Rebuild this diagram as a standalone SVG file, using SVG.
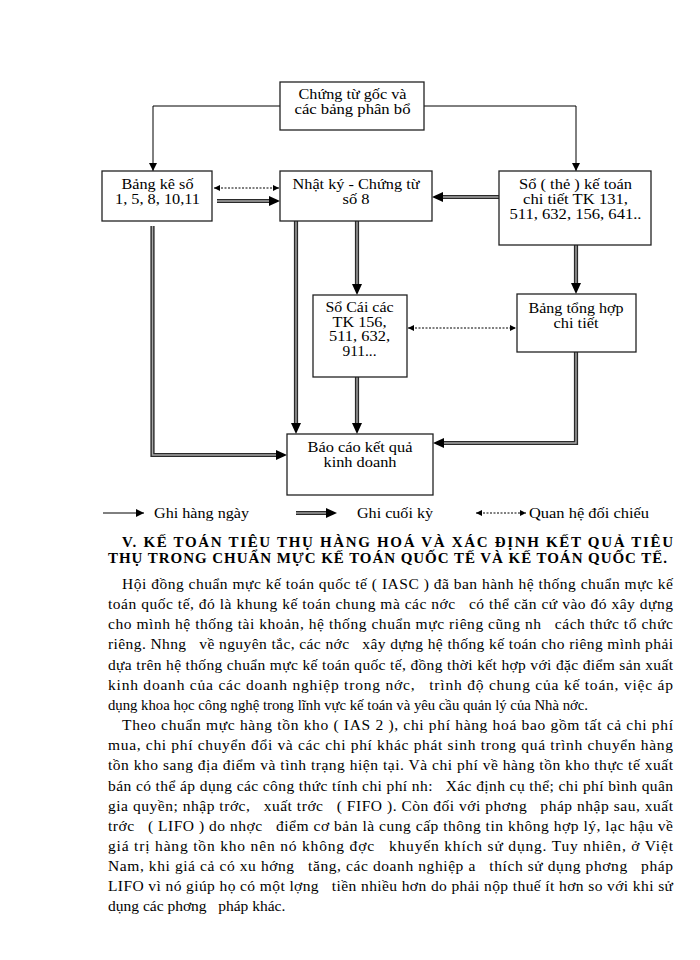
<svg xmlns="http://www.w3.org/2000/svg" width="700" height="960" viewBox="0 0 700 960">
<style>
.box{fill:#fff;stroke:#222;stroke-width:1.3}
.bt{font-family:"Liberation Serif","Times New Roman",serif;font-size:14.5px;fill:#000;text-anchor:middle}
.thin{fill:none;stroke:#000;stroke-width:1}
.dbl{fill:none;stroke:#2a2a2a;stroke-width:4.2}
.dbli{fill:none;stroke:#a8a8a8;stroke-width:1.4}
.dot{fill:none;stroke:#000;stroke-width:1;stroke-dasharray:2 1.5}
.lg{font-family:"Liberation Serif","Times New Roman",serif;font-size:15px;fill:#000}
.ti{font-family:"Liberation Serif","Times New Roman",serif;font-size:15px;font-weight:bold;fill:#000}
.p{font-family:"Liberation Serif","Times New Roman",serif;font-size:15.5px;fill:#000}
</style>
<defs>
<marker id="ah" viewBox="0 0 8 8" refX="8" refY="4" markerWidth="8" markerHeight="8" markerUnits="userSpaceOnUse" orient="auto"><path d="M0,0 L8,4 L0,8 z" fill="#000"/></marker>
<marker id="dh" viewBox="0 0 11 10" refX="3" refY="5" markerWidth="11" markerHeight="10" markerUnits="userSpaceOnUse" orient="auto"><path d="M0,0 L11,5 L0,10 z" fill="#000"/></marker>
<marker id="dt" viewBox="0 0 6 6" refX="6" refY="3" markerWidth="6" markerHeight="6" markerUnits="userSpaceOnUse" orient="auto-start-reverse"><path d="M0,0 L6,3 L0,6 z" fill="#000"/></marker>
</defs>
<rect width="700" height="960" fill="#fff"/>

<g id="connectors">
<path class="thin" d="M280,106 H153 V171" marker-end="url(#ah)"/>
<path class="thin" d="M424,106 H576 V171" marker-end="url(#ah)"/>
<path class="dot" d="M214,188 H279" marker-start="url(#dt)" marker-end="url(#dt)"/>
<path class="dot" d="M408,328 H516" marker-start="url(#dt)" marker-end="url(#dt)"/>
<path class="dbl" d="M217,201 H272" marker-end="url(#dh)"/><path class="dbli" d="M217,201 H269"/>
<path class="dbl" d="M499,197 H440" marker-end="url(#dh)"/><path class="dbli" d="M499,197 H443"/>
<path class="dbl" d="M152.5,226 V455 H279" marker-end="url(#dh)"/><path class="dbli" d="M152.5,226 V455 H276"/>
<path class="dbl" d="M296,221 V426" marker-end="url(#dh)"/><path class="dbli" d="M296,221 V423"/>
<path class="dbl" d="M357,221 V287" marker-end="url(#dh)"/><path class="dbli" d="M357,221 V284"/>
<path class="dbl" d="M357,377 V426" marker-end="url(#dh)"/><path class="dbli" d="M357,377 V423"/>
<path class="dbl" d="M576,245 V286" marker-end="url(#dh)"/><path class="dbli" d="M576,245 V283"/>
<path class="dbl" d="M576,352 V443 H441" marker-end="url(#dh)"/><path class="dbli" d="M576,352 V443 H444"/>
</g>

<g id="n-chungtugoc">
<rect class="box" x="280" y="82" width="144" height="48"/>
<text class="bt" x="352.5" y="98.5" textLength="108" lengthAdjust="spacingAndGlyphs">Chứng từ gốc và</text>
<text class="bt" x="352.5" y="113.5" textLength="116" lengthAdjust="spacingAndGlyphs">các bảng phân bổ</text>
</g>
<g id="n-bangke">
<rect class="box" x="102" y="171" width="110" height="50"/>
<text class="bt" x="157.5" y="188.5" textLength="72" lengthAdjust="spacingAndGlyphs">Bảng kê số</text>
<text class="bt" x="157.5" y="203.5" textLength="85" lengthAdjust="spacingAndGlyphs">1, 5, 8, 10,11</text>
</g>
<g id="n-nhatky">
<rect class="box" x="280" y="171" width="152" height="50"/>
<text class="bt" x="356" y="188.5" textLength="127" lengthAdjust="spacingAndGlyphs">Nhật ký - Chứng từ</text>
<text class="bt" x="356" y="203.5" textLength="27" lengthAdjust="spacingAndGlyphs">số 8</text>
</g>
<g id="n-sothe">
<rect class="box" x="499" y="171" width="152" height="74"/>
<text class="bt" x="575.5" y="189" textLength="113" lengthAdjust="spacingAndGlyphs">Sổ ( thẻ ) kế toán</text>
<text class="bt" x="575.5" y="204" textLength="105" lengthAdjust="spacingAndGlyphs">chi tiết TK 131,</text>
<text class="bt" x="575.5" y="219" textLength="132" lengthAdjust="spacingAndGlyphs">511, 632, 156, 641..</text>
</g>
<g id="n-socai">
<rect class="box" x="313" y="295" width="94" height="82"/>
<text class="bt" x="359.5" y="311.5" textLength="68" lengthAdjust="spacingAndGlyphs">Sổ Cái các</text>
<text class="bt" x="359.5" y="326.5" textLength="54" lengthAdjust="spacingAndGlyphs">TK 156,</text>
<text class="bt" x="359.5" y="341" textLength="61" lengthAdjust="spacingAndGlyphs">511, 632,</text>
<text class="bt" x="359.5" y="355.5" textLength="34" lengthAdjust="spacingAndGlyphs">911...</text>
</g>
<g id="n-tonghop">
<rect class="box" x="517" y="294" width="119" height="58"/>
<text class="bt" x="576" y="312.5" textLength="95" lengthAdjust="spacingAndGlyphs">Bảng tổng hợp</text>
<text class="bt" x="576" y="327.5" textLength="45" lengthAdjust="spacingAndGlyphs">chi tiết</text>
</g>
<g id="n-baocao">
<rect class="box" x="287" y="434" width="146" height="61"/>
<text class="bt" x="360" y="451.5" textLength="105" lengthAdjust="spacingAndGlyphs">Báo cáo kết quả</text>
<text class="bt" x="360" y="466.5" textLength="73" lengthAdjust="spacingAndGlyphs">kinh doanh</text>
</g>

<g id="legend">
<path class="thin" d="M103,513 H144" marker-end="url(#ah)"/>
<text class="lg" x="154" y="518" textLength="95" lengthAdjust="spacingAndGlyphs">Ghi hàng ngày</text>
<path class="dbl" d="M296,513 H329" marker-end="url(#dh)"/><path class="dbli" d="M296,513 H326"/>
<text class="lg" x="357" y="518" textLength="76" lengthAdjust="spacingAndGlyphs">Ghi cuối kỳ</text>
<path class="dot" d="M476,513 H526" marker-start="url(#dt)" marker-end="url(#dt)"/>
<text class="lg" x="529" y="518" textLength="120" lengthAdjust="spacingAndGlyphs">Quan hệ đối chiếu</text>
</g>

<g id="body-text">
<text class="ti" x="122" y="547" textLength="551" lengthAdjust="spacing">V. KẾ TOÁN TIÊU THỤ HÀNG HOÁ VÀ XÁC ĐỊNH KẾT QUẢ TIÊU</text>
<text class="ti" x="108" y="563" textLength="559" lengthAdjust="spacing">THỤ TRONG CHUẨN MỰC KẾ TOÁN QUỐC TẾ VÀ KẾ TOÁN QUỐC TẾ.</text>
<text class="p" xml:space="preserve" x="122" y="589" textLength="551" lengthAdjust="spacing">Hội đồng chuẩn mực kế toán quốc tế ( IASC ) đã ban hành hệ thống chuẩn mực kế</text>
<text class="p" xml:space="preserve" x="108" y="609" textLength="565" lengthAdjust="spacing">toán quốc tế, đó là khung kế toán chung mà các nớc   có thể căn cứ vào đó xây dựng</text>
<text class="p" xml:space="preserve" x="108" y="629" textLength="565" lengthAdjust="spacing">cho mình hệ thống tài khoản, hệ thống chuẩn mực riêng cũng nh   cách thức tổ chức</text>
<text class="p" xml:space="preserve" x="108" y="649" textLength="565" lengthAdjust="spacing">riêng. Nhng   về nguyên tắc, các nớc   xây dựng hệ thống kế toán cho riêng mình phải</text>
<text class="p" xml:space="preserve" x="108" y="670" textLength="565" lengthAdjust="spacing">dựa trên hệ thống chuẩn mực kế toán quốc tế, đồng thời kết hợp với đặc điểm sản xuất</text>
<text class="p" xml:space="preserve" x="108" y="690" textLength="565" lengthAdjust="spacing">kinh doanh của các doanh nghiệp trong nớc,   trình độ chung của kế toán, việc áp</text>
<text class="p" xml:space="preserve" x="108" y="710" textLength="480" lengthAdjust="spacingAndGlyphs">dụng khoa học công nghệ trong lĩnh vực kế toán và yêu cầu quản lý của Nhà nớc.</text>
<text class="p" xml:space="preserve" x="122" y="730" textLength="551" lengthAdjust="spacing">Theo chuẩn mực hàng tồn kho ( IAS 2 ), chi phí hàng hoá bao gồm tất cả chi phí</text>
<text class="p" xml:space="preserve" x="108" y="750" textLength="565" lengthAdjust="spacing">mua, chi phí chuyển đổi và các chi phí khác phát sinh trong quá trình chuyển hàng</text>
<text class="p" xml:space="preserve" x="108" y="770" textLength="565" lengthAdjust="spacing">tồn kho sang địa điểm và tình trạng hiện tại. Và chi phí về hàng tồn kho thực tế xuất</text>
<text class="p" xml:space="preserve" x="108" y="791" textLength="565" lengthAdjust="spacing">bán có thể áp dụng các công thức tính chi phí nh:   Xác định cụ thể; chi phí bình quân</text>
<text class="p" xml:space="preserve" x="108" y="811" textLength="565" lengthAdjust="spacing">gia quyền; nhập trớc,   xuất trớc   ( FIFO ). Còn đối với phơng   pháp nhập sau, xuất</text>
<text class="p" xml:space="preserve" x="108" y="831" textLength="565" lengthAdjust="spacing">trớc   ( LIFO ) do nhợc   điểm cơ bản là cung cấp thông tin không hợp lý, lạc hậu về</text>
<text class="p" xml:space="preserve" x="108" y="851" textLength="565" lengthAdjust="spacing">giá trị hàng tồn kho nên nó không đợc   khuyến khích sử dụng. Tuy nhiên, ở Việt</text>
<text class="p" xml:space="preserve" x="108" y="871" textLength="565" lengthAdjust="spacing">Nam, khi giá cả có xu hớng   tăng, các doanh nghiệp a   thích sử dụng phơng   pháp</text>
<text class="p" xml:space="preserve" x="108" y="891" textLength="565" lengthAdjust="spacing">LIFO vì nó giúp họ có một lợng   tiền nhiều hơn do phải nộp thuế ít hơn so với khi sử</text>
<text class="p" xml:space="preserve" x="108" y="911">dụng các phơng   pháp khác.</text>
</g>
</svg>
